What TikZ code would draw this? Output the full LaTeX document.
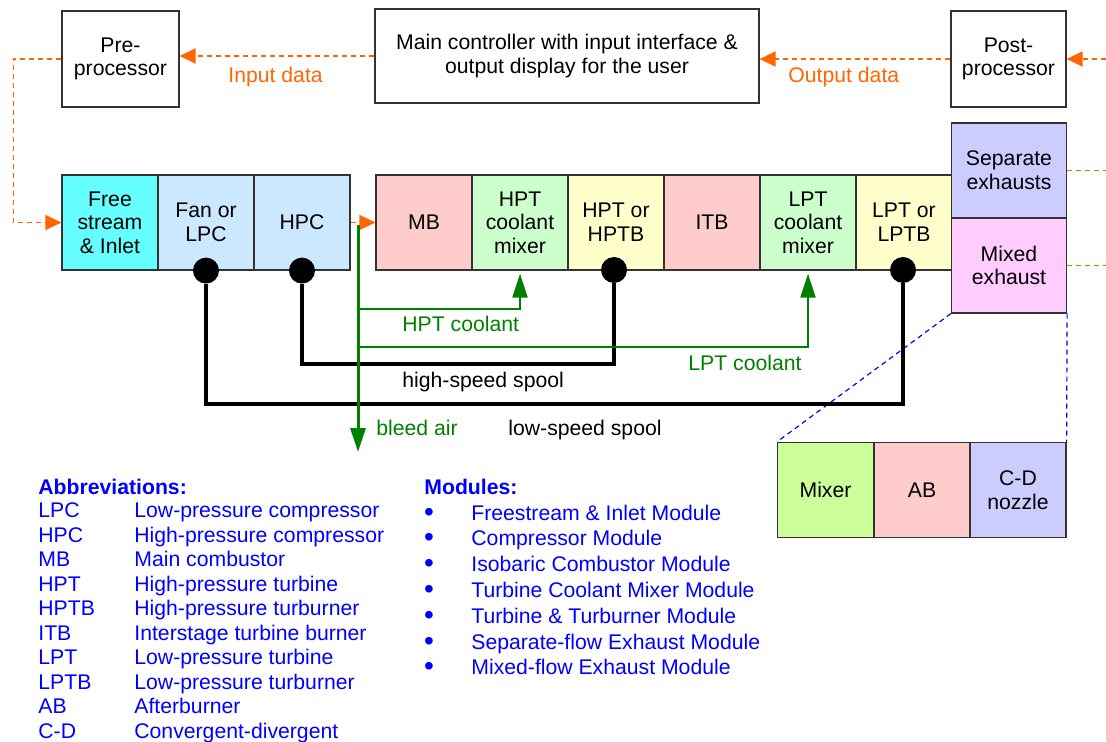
\documentclass[tikz,border=0pt]{standalone}
\usepackage{fontspec}
\setmainfont{Liberation Sans}
\usetikzlibrary{arrows.meta,positioning}

\definecolor{dataorange}{HTML}{FF6600}
\definecolor{bleedgreen}{HTML}{008000}
\definecolor{inletcyan}{HTML}{66FFFF}
\definecolor{compblue}{HTML}{CCE8FF}
\definecolor{burnred}{HTML}{FFCCCC}
\definecolor{mixgreen}{HTML}{CCFFCC}
\definecolor{turbyellow}{HTML}{FFFFCC}
\definecolor{sepblue}{HTML}{CCCCFF}
\definecolor{mixpink}{HTML}{FFCCFF}
\definecolor{mixerlime}{HTML}{CCFF99}

\tikzset{
  cell/.style={draw=black!80, line width=0.6pt, minimum width=48pt, minimum height=47.5pt, inner sep=0pt},
  exhcell/.style={cell, minimum width=57.5pt},
  ctrl/.style={draw=black!80, line width=0.6pt, minimum height=48pt, inner sep=0pt},
  dot/.style={circle, fill=black, minimum size=13pt, inner sep=0pt},
  data/.style={dataorange, line width=0.75pt, dash pattern=on 2.5pt off 2pt},
  datatip/.style={-{Triangle[length=8pt,width=7.5pt]}},
  spool/.style={line width=2pt},
  coolant/.style={bleedgreen, line width=1pt, -{Triangle[length=12pt,width=7.5pt]}},
  zoomline/.style={blue, line width=0.6pt, dash pattern=on 2.5pt off 2pt},
  lbl/.style={anchor=base west, inner sep=0pt},
  legend/.style={anchor=base west, inner sep=0pt, blue}
}

\begin{document}
\begin{tikzpicture}[x=0.5pt,y=-0.5pt,every node/.style={font=\fontsize{10.6}{11.8}\selectfont, align=center}]
\useasboundingbox (0,0) rectangle (1106,742);

% controller row
\node[ctrl, minimum width=58.5pt] (pre) at (120.5,59) {Pre-\\processor};
\node[ctrl, minimum width=192pt, minimum height=47pt] (main) at (567,56) {Main controller with input interface \&\\output display for the user};
\node[ctrl, minimum width=57.5pt] (post) at (1008.5,59) {Post-\\processor};
\coordinate (edge) at (1106,0);

% engine modules
\node[cell, fill=inletcyan] (inlet) at (110,222.5) {Free\\stream\\\& Inlet};
\node[cell, fill=compblue] (lpc) at (206,222.5) {Fan or\\LPC};
\node[cell, fill=compblue] (hpc) at (302,222.5) {HPC};
\node[cell, fill=burnred] (mb) at (424,222.5) {MB};
\node[cell, fill=mixgreen] (hptmix) at (520,222.5) {HPT\\coolant\\mixer};
\node[cell, fill=turbyellow] (hpt) at (616,222.5) {HPT or\\HPTB};
\node[cell, fill=burnred] (itb) at (712,222.5) {ITB};
\node[cell, fill=mixgreen] (lptmix) at (808,222.5) {LPT\\coolant\\mixer};
\node[cell, fill=turbyellow] (lpt) at (904,222.5) {LPT or\\LPTB};
\node[exhcell, fill=sepblue] (sep) at (1009,170.5) {Separate\\exhausts};
\node[exhcell, fill=mixpink] (mix) at (1009,265.5) {Mixed\\exhaust};

% mixed exhaust detail
\node[cell, fill=mixerlime] (mixer) at (825.5,490) {Mixer};
\node[cell, fill=burnred] (ab) at (922,490) {AB};
\node[cell, fill=sepblue] (cd) at (1018,490) {C-D\\nozzle};
\draw[zoomline] (mix.south west) -- (mixer.north west);
\draw[zoomline] (mix.south east) -- (cd.north east);

% data flow
\draw[data, datatip] (main.west) -- (main.west -| pre.east);
\draw[data, datatip] (post.west) -- (post.west -| main.east);
\draw[data, datatip] (post.east -| edge) -- (post.east);
\draw[data, datatip] (pre.west) -- ++(-48,0) |- (inlet.west);
\draw[data, datatip] (hpc.east) -- (mb.west);
\draw[data] (sep.east) -- (sep.east -| edge);
\draw[data] (mix.east) -- (mix.east -| edge);
\node[lbl, dataorange] (indata) at (228,83) {Input data};
\node[lbl, dataorange] (outdata) at (788,83) {Output data};

% spools
\node[dot] (lpcdot) at (lpc.south) {};
\node[dot] (hpcdot) at (hpc.south) {};
\node[dot] (hptdot) at (614,270) {};
\node[dot] (lptdot) at (903,270) {};
\draw[spool] (lpcdot.south) -- ++(0,120) -| (lptdot.south);
\draw[spool] (hpcdot.south) -- ++(0,80) -| (hptdot.south);
\node[lbl] (hslbl) at (402,387) {high-speed spool};
\node[lbl] (lslbl) at (508,435) {low-speed spool};

% bleed air and coolant
\coordinate (bleed) at (358,225);
\coordinate (bleedout) at (358,452);
\coordinate (hptfeed) at (358,309);
\coordinate (lptfeed) at (358,347);
\draw[coolant] (hptfeed) -| ([yshift=-1.5pt]hptmix.south);
\draw[coolant] (lptfeed) -| ([yshift=-1.5pt]lptmix.south);
\draw[coolant, line width=1.5pt] (bleed) -- (bleedout);
\node[lbl, bleedgreen] (hptclbl) at (402,332) {HPT coolant};
\node[lbl, bleedgreen] (lptclbl) at (688,371) {LPT coolant};
\node[lbl, bleedgreen] (bleedlbl) at (376,435) {bleed air};

% legend
\node[legend, font=\fontsize{10.6}{11.8}\selectfont\bfseries] (abbr) at (38,494) {Abbreviations:};
\foreach \ab/\txt [count=\i] in {LPC/Low-pressure compressor, HPC/High-pressure compressor,
    MB/Main combustor, HPT/High-pressure turbine, HPTB/High-pressure turburner,
    ITB/Interstage turbine burner, LPT/Low-pressure turbine, LPTB/Low-pressure turburner,
    AB/Afterburner, C-D/Convergent-divergent}
{
  \node[legend] (ab\i) at (38,{517.7+24.5*(\i-1)}) {\ab};
  \node[legend] (abtxt\i) at (134,{517.7+24.5*(\i-1)}) {\txt};
}
\node[legend, font=\fontsize{10.6}{11.8}\selectfont\bfseries] (mods) at (424,494) {Modules:};
\foreach \txt [count=\i] in {Freestream \& Inlet Module, Compressor Module,
    Isobaric Combustor Module, Turbine Coolant Mixer Module, Turbine \& Turburner Module,
    Separate-flow Exhaust Module, Mixed-flow Exhaust Module}
{
  \node[legend, anchor=base, font=\fontsize{14}{14}\selectfont] (bul\i) at (429,{521+25.8*(\i-1)}) {\textbullet};
  \node[legend] (mod\i) at (471,{520+25.8*(\i-1)}) {\txt};
}
\end{tikzpicture}
\end{document}
